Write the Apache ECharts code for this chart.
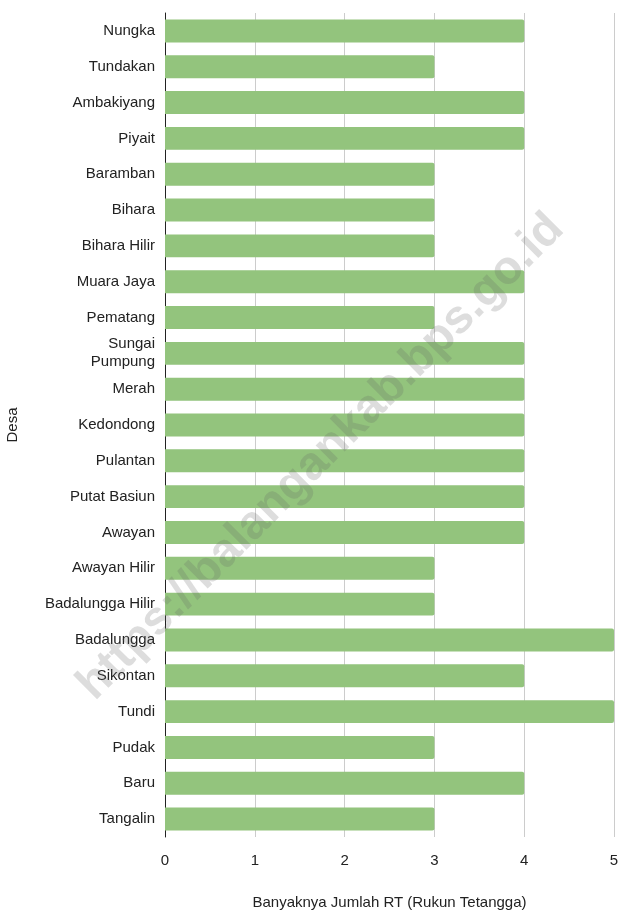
<!DOCTYPE html>
<html>
<head>
<meta charset="utf-8">
<script src="https://cdn.jsdelivr.net/npm/echarts@6/dist/echarts.min.js"></script>
<style>html,body{margin:0;padding:0;background:#fff}#c{width:619px;height:913px}</style>
</head>
<body>
<div id="c"></div>
<script>
const categories = ["Nungka","Tundakan","Ambakiyang","Piyait","Baramban","Bihara","Bihara Hilir","Muara Jaya","Pematang","Sungai Pumpung","Merah","Kedondong","Pulantan","Putat Basiun","Awayan","Awayan Hilir","Badalungga Hilir","Badalungga","Sikontan","Tundi","Pudak","Baru","Tangalin"];
const values = [4,3,4,4,3,3,3,4,3,4,4,4,4,4,4,3,3,5,4,5,3,4,3];
const xTicks = [0,1,2,3,4,5];

const chart = echarts.init(document.getElementById('c'), null, {renderer:'canvas'});
chart.setOption({
  animation:false,
  backgroundColor:'#fff',
  textStyle:{fontFamily:'Liberation Sans, Arial, sans-serif'},
  grid:{left:165, right:5, top:13, bottom:76, containLabel:false, outerBoundsMode:'none'},
  xAxis:{
    type:'value', min:xTicks[0], max:xTicks[xTicks.length-1], interval:1,
    name:'Banyaknya Jumlah RT (Rukun Tetangga)', nameLocation:'middle', nameGap:58,
    nameTextStyle:{color:'#222', fontSize:15},
    axisLine:{show:false}, axisTick:{show:false},
    axisLabel:{color:'#222', fontSize:15, margin:16},
    splitLine:{show:true, lineStyle:{color:'#cccccc', width:1}}
  },
  yAxis:{
    type:'category', data:categories, inverse:true,
    name:'Desa', nameLocation:'middle', nameGap:145, nameRotate:90,
    nameTextStyle:{color:'#222', fontSize:15},
    axisLine:{show:true, lineStyle:{color:'#222', width:1}},
    axisTick:{show:false},
    axisLabel:{color:'#222', fontSize:15, margin:10, lineHeight:18,
      formatter:v=> v==='Sungai Pumpung' ? 'Sungai\nPumpung' : v}
  },
  series:[{
    type:'bar', data:values, barCategoryGap:'36%',
    itemStyle:{color:'#93c47d', borderRadius:[0,2,2,0]}
  }],
  graphic:[{
    type:'text', x:321, y:457, rotation:Math.PI/4,
    style:{text:'https://balangankab.bps.go.id', font:'bold 47px Liberation Sans, Arial, sans-serif',
      fill:'rgba(100,100,100,0.22)', align:'center', verticalAlign:'middle'},
    z:100
  }]
});
</script>
</body>
</html>
